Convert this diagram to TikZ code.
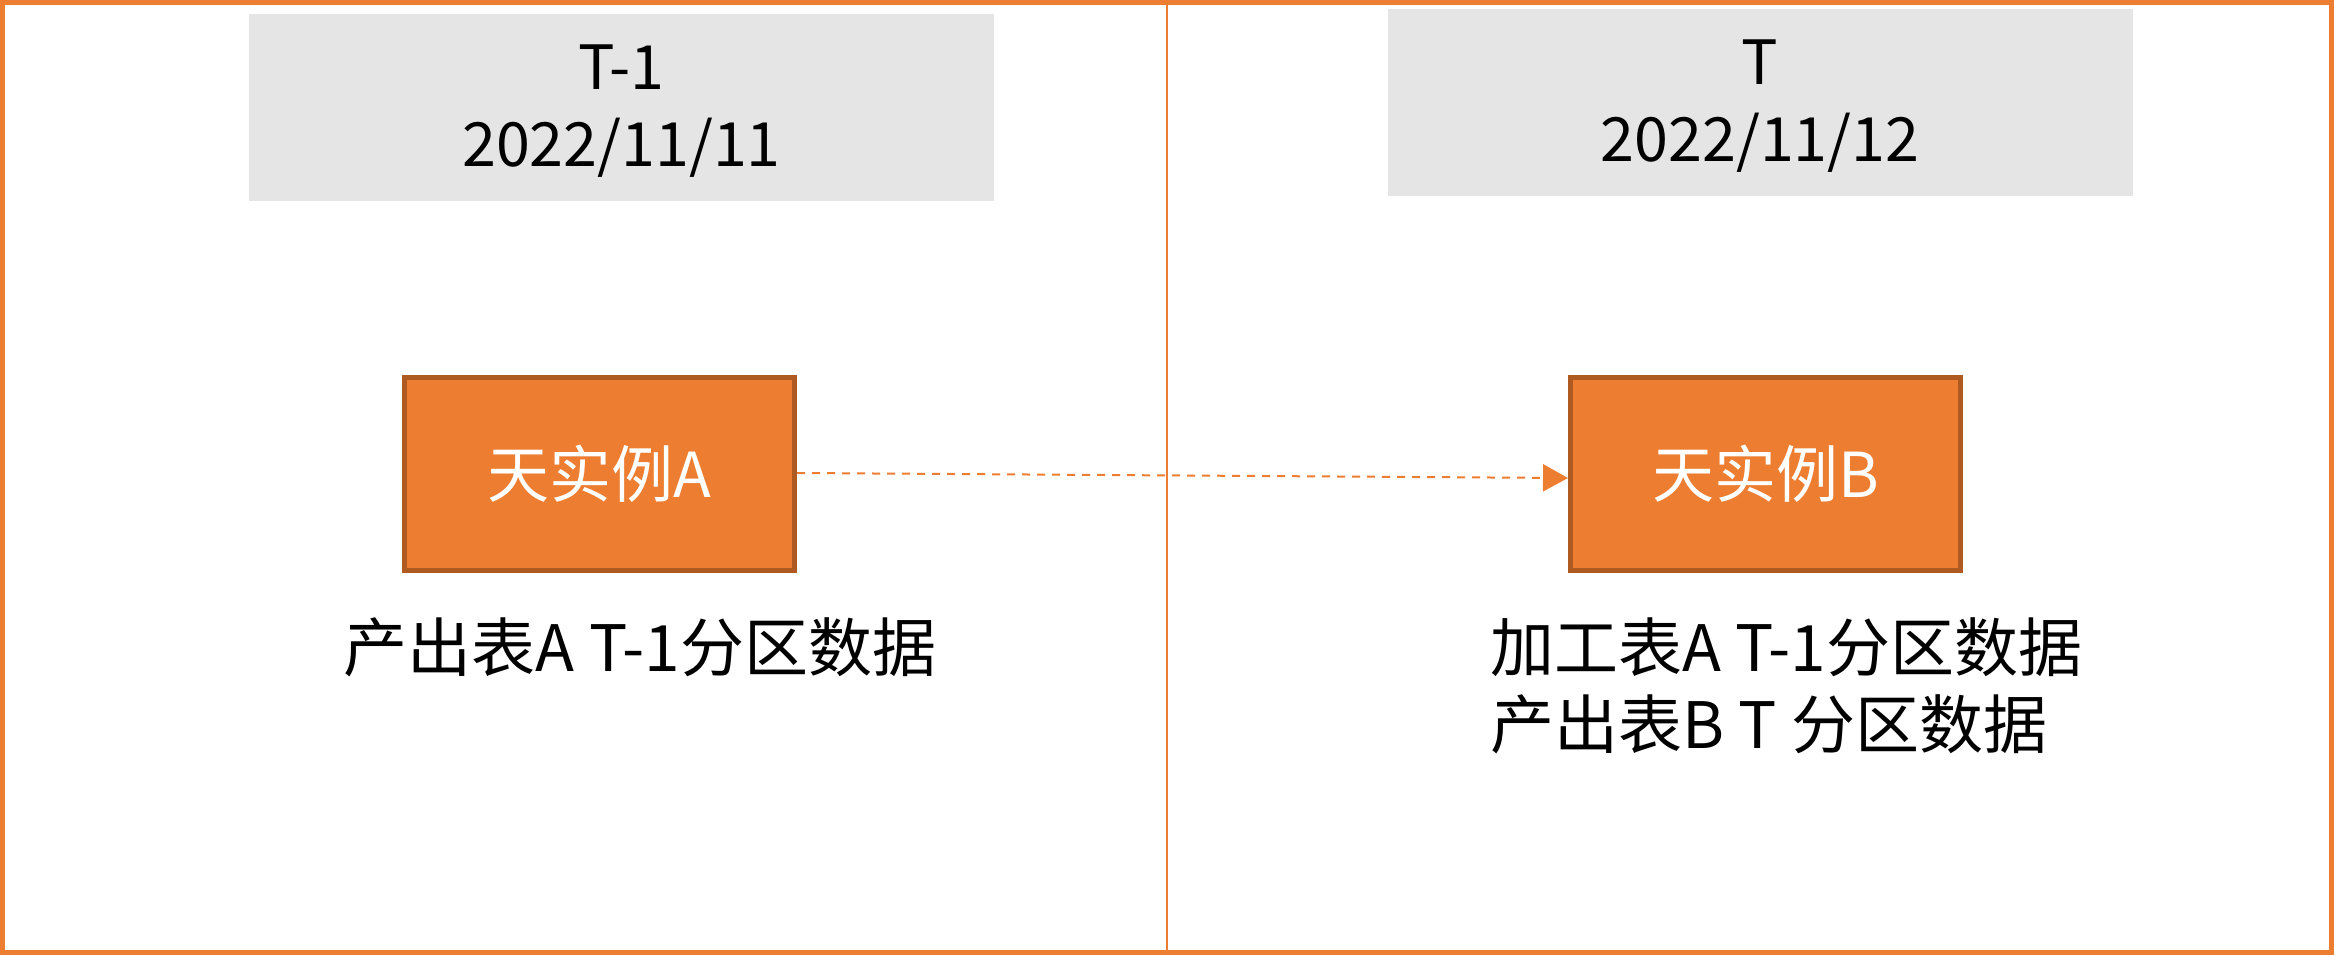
\documentclass[tikz,border=0pt]{standalone}
\usepackage{fontspec}
\setmainfont{Noto Sans CJK SC}
\usetikzlibrary{arrows.meta}
\definecolor{orng}{HTML}{ED7D31}
\definecolor{orngdark}{HTML}{AE5A21}
\definecolor{hdrgrey}{HTML}{E5E5E5}
\begin{document}
\begin{tikzpicture}[x=1pt,y=-1pt,
  hdr/.style={fill=hdrgrey, minimum width=745pt, minimum height=187pt, inner sep=0pt},
  hdrtext/.style={inner sep=0pt, align=center, font=\fontsize{61}{77}\selectfont},
  inst/.style={fill=orng, draw=orngdark, line width=5pt, minimum width=390pt, minimum height=193pt, inner sep=0pt, text=white, font=\fontsize{62}{72}\selectfont},
  note/.style={inner sep=0pt, font=\fontsize{64}{77}\selectfont},
  flow/.style={orng, line width=2pt, dash pattern=on 8pt off 7pt, -{Triangle[length=25pt,width=27pt]}}
]
\useasboundingbox (0,0) rectangle (2334,955);
\draw[orng, line width=5pt] (2.5,2.5) rectangle (2331.5,952.5);
\draw[orng, line width=1.5pt] (1167,5) -- (1167,950);

\node[hdr] (h1) at (621.5,107.5) {};
\node[hdr] (h2) at (1760,102.5) {};
\node[hdrtext] (t1) at (621.5,111) {T-1\\2022/11/11};
\node[hdrtext] (t2) at (1760,106) {T\\2022/11/12};

\node[inst] (a) at (599.5,474) {天实例A};
\node[inst] (b) at (1765.5,474) {天实例B};

\draw[flow] ([yshift=1pt]a.east) -- ([yshift=-4pt]b.west);

\node[note] (na) at (640,647) {产出表A T-1分区数据};
\node[note, anchor=west, align=left] (nb) at (1490,686) {加工表A T-1分区数据\\产出表B T 分区数据};
\end{tikzpicture}
\end{document}
